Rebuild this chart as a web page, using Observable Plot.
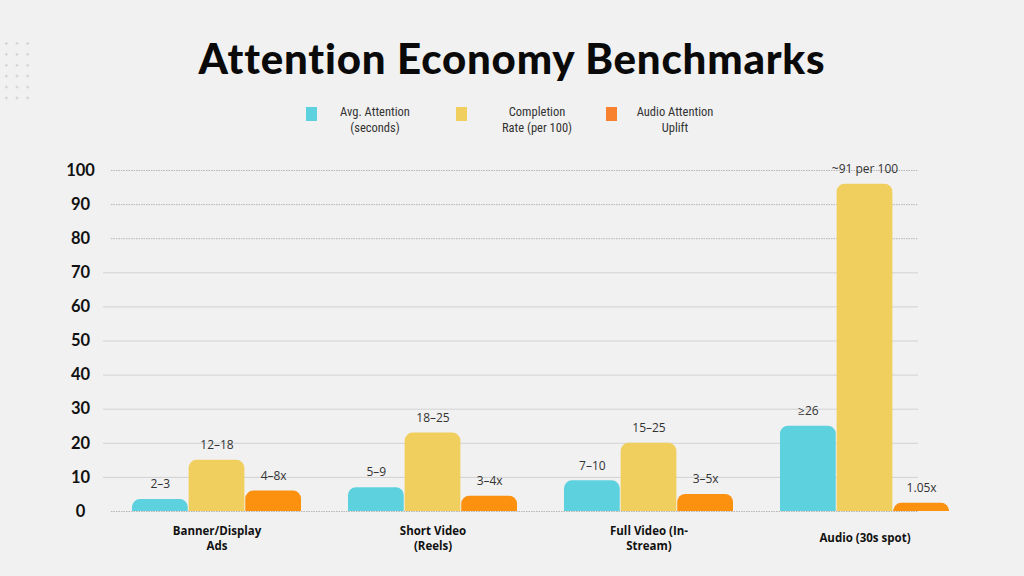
<!DOCTYPE html>
<html>
<head>
<meta charset="utf-8">
<script src="https://cdn.jsdelivr.net/npm/d3@7"></script>
<script src="https://cdn.jsdelivr.net/npm/@observablehq/plot@0.6"></script>
<style>
  html, body { margin: 0; padding: 0; background: #f1f1f1; }
  #page { position: relative; width: 1024px; height: 576px; overflow: hidden; background: #f1f1f1; }
  #header { position: relative; width: 1024px; height: 145px; }
  #title { position: absolute; top: 33px; left: 0; width: 1024px; text-align: center;
    font-family: Lato, "Open Sans", sans-serif; font-weight: 900; font-size: 42px; letter-spacing: 0.8px; line-height: 50px; color: #0a0a0a; }
  #dots { position: absolute; left: 1px; top: 38px; width: 32px; height: 66px;
    background-image: radial-gradient(circle, #cfcfcf 1px, transparent 1.3px);
    background-size: 10.7px 10.9px; }
  .sw { position: absolute; width: 11px; height: 14px; top: 107px; }
  .lt { position: absolute; width: 130px; text-align: center; top: 104px; white-space: pre-line;
    font-family: "Liberation Sans Narrow", "Roboto Condensed", "Open Sans", sans-serif; font-size: 12.5px; line-height: 15.5px; color: #333; }
  #chart svg { display: block; }
</style>
</head>
<body>
<div id="page">
  <div id="header">
    <div id="dots"></div>
    <div id="title">Attention Economy Benchmarks</div>
    <div id="legend"></div>
  </div>
  <div id="chart"></div>
</div>
<script>
const categories = ["Banner/Display Ads", "Short Video (Reels)", "Full Video (In-Stream)", "Audio (30s spot)"];
const categoryLabels = ["Banner/Display\nAds", "Short Video\n(Reels)", "Full Video (In-\nStream)", "Audio (30s spot)"];
const series = ["Avg. Attention (seconds)", "Completion Rate (per 100)", "Audio Attention Uplift"];
const legendLabels = ["Avg. Attention\n(seconds)", "Completion\nRate (per 100)", "Audio Attention\nUplift"];
const avgAttention = [3.5, 7, 9, 25];
const completionRate = [15, 23, 20, 96];
const audioUplift = [6, 4.5, 5, 2.4];
const avgLabels = ["2–3", "5–9", "7–10", "≥26"];
const completionLabels = ["12–18", "18–25", "15–25", "~91 per 100"];
const upliftLabels = ["4–8x", "3–4x", "3–5x", "1.05x"];
const yTicks = [0, 10, 20, 30, 40, 50, 60, 70, 80, 90, 100];
const dottedTicks = [0, 80, 90, 100];
const colors = ["#5dd2de", "#f0cf5f", "#fb910f"];
const legendColors = ["#5dd2de", "#f0cf5f", "#f7812e"];

const valuesBySeries = [avgAttention, completionRate, audioUplift];
const labelsBySeries = [avgLabels, completionLabels, upliftLabels];
const data = [];
categories.forEach((c, i) => {
  series.forEach((s, j) => {
    data.push({category: c, series: s, value: valuesBySeries[j][i], label: labelsBySeries[j][i]});
  });
});

// legend
const legend = document.getElementById("legend");
const swLeft = [306, 456, 606];
const textCenter = [375, 537, 675];
series.forEach((s, j) => {
  const sw = document.createElement("div");
  sw.className = "sw";
  sw.style.left = swLeft[j] + "px";
  sw.style.background = legendColors[j];
  legend.appendChild(sw);
  const t = document.createElement("div");
  t.className = "lt";
  t.style.left = (textCenter[j] - 65) + "px";
  t.textContent = legendLabels[j];
  legend.appendChild(t);
});

const W = 1024, ML = 83, MR = 26, PAD = 0.217;
const xScale = Plot.scale({x: {type: "band", domain: categories, range: [ML, W - MR], paddingInner: PAD, paddingOuter: PAD}});
const sub = xScale.bandwidth / series.length;

const barMarks = series.map((s, j) => Plot.barY(data.filter(d => d.series === s), {
  x: "category", y: "value", fill: "series",
  insetLeft: j * sub, insetRight: (series.length - 1 - j) * sub, ry1: 8
}));
const labelMarks = series.map((s, j) => Plot.text(data.filter(d => d.series === s), {
  x: "category", y: "value", text: "label", dy: -15, dx: (j - (series.length - 1) / 2) * sub,
  fontSize: 12, fill: "#333"
}));

const chart = Plot.plot({
  width: W,
  height: 431,
  marginTop: 25,
  marginBottom: 65,
  marginLeft: ML,
  marginRight: MR,
  style: {background: "transparent", fontFamily: "'Open Sans', sans-serif", overflow: "visible"},
  x: {domain: categories, paddingInner: PAD, paddingOuter: PAD, label: null},
  y: {domain: [0, 100], axis: null},
  color: {domain: series, range: colors},
  marks: [
    Plot.ruleY(yTicks.filter(t => !dottedTicks.includes(t)), {y: d => d, insetLeft: 20, insetRight: 80, stroke: "#d2d2d2", strokeWidth: 1}),
    Plot.ruleY(dottedTicks, {y: d => d, insetLeft: 28, insetRight: 80, stroke: "#b5b5b5", strokeWidth: 1, strokeDasharray: "1.5,1"}),
    Plot.text(yTicks, {y: d => d, text: d => String(d), frameAnchor: "left", textAnchor: "middle", dx: -3,
      fontSize: 16.5, fontWeight: 700, fill: "#111", fontFamily: "Lato, 'Open Sans', sans-serif"}),
    ...barMarks,
    ...labelMarks,
    Plot.axisX({tickSize: 0, tickPadding: 26, lineAnchor: "middle", lineHeight: 1.35, fontSize: 11.5, fontWeight: 700, fill: "#111",
      tickFormat: d => categoryLabels[categories.indexOf(d)], label: null})
  ]
});
document.getElementById("chart").appendChild(chart);
</script>
</body>
</html>
